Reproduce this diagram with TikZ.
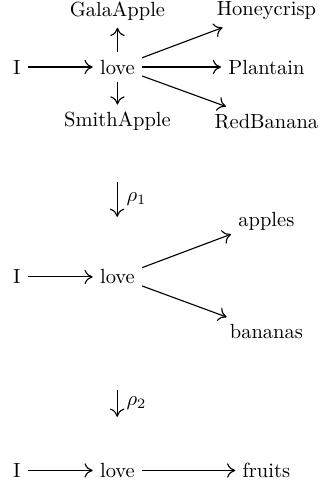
\documentclass[tikz,border=0pt]{standalone}
\usepackage{amsmath}
\usepackage{tikz}
\usetikzlibrary{arrows.meta}

\begin{document}
\begin{tikzpicture}[>={Computer Modern Rightarrow[length=4pt, width=7pt]}, line width=0.55pt, word/.style={inner sep=3.33pt}]
          \useasboundingbox (0,0) rectangle (5.49,-8.32);
          % Level 0
          \node[word] (i0) at (0.29,-1.15) {I};
          \node[word] (love0) at (2.015,-1.15) {love};
          \node[word] (gala) at (2.015,-0.19) {GalaApple};
          \node[word] (smith) at (2.015,-2.08) {SmithApple};
          \node[word] (honey) at (4.57,-0.19) {Honeycrisp};
          \node[word] (plant) at (4.57,-1.15) {Plantain};
          \node[word] (redban) at (4.57,-2.08) {RedBanana};
          \draw[->] (i0) -- (love0);
          \draw[->] (love0) -- (gala);
          \draw[->] (love0) -- (smith);
          \draw[->] (love0) -- (honey);
          \draw[->] (love0) -- (plant);
          \draw[->] (love0) -- (redban);
          % rho_1
          \coordinate (r1top) at (2.01,-3.12);
          \coordinate (r1bot) at (2.01,-3.72);
          \draw[->] (r1top) -- (r1bot) node[midway, right=1pt] (rho1) {$\rho_1$};
          % Level 1
          \node[word] (i1) at (0.29,-4.75) {I};
          \node[word] (love1) at (2.015,-4.75) {love};
          \node[word] (apples) at (4.57,-3.79) {apples};
          \node[word] (bananas) at (4.57,-5.69) {bananas};
          \draw[->] (i1) -- (love1);
          \draw[->] (love1) -- (apples);
          \draw[->] (love1) -- (bananas);
          % rho_2
          \coordinate (r2top) at (2.01,-6.69);
          \coordinate (r2bot) at (2.01,-7.15);
          \draw[->] (r2top) -- (r2bot) node[midway, right=1pt] (rho2) {$\rho_2$};
          % Level 2
          \node[word] (i2) at (0.29,-8.07) {I};
          \node[word] (love2) at (2.015,-8.07) {love};
          \node[word] (fruits) at (4.57,-8.07) {fruits};
          \draw[->] (i2) -- (love2);
          \draw[->] (love2) -- (fruits);
        \end{tikzpicture}
\end{document}
